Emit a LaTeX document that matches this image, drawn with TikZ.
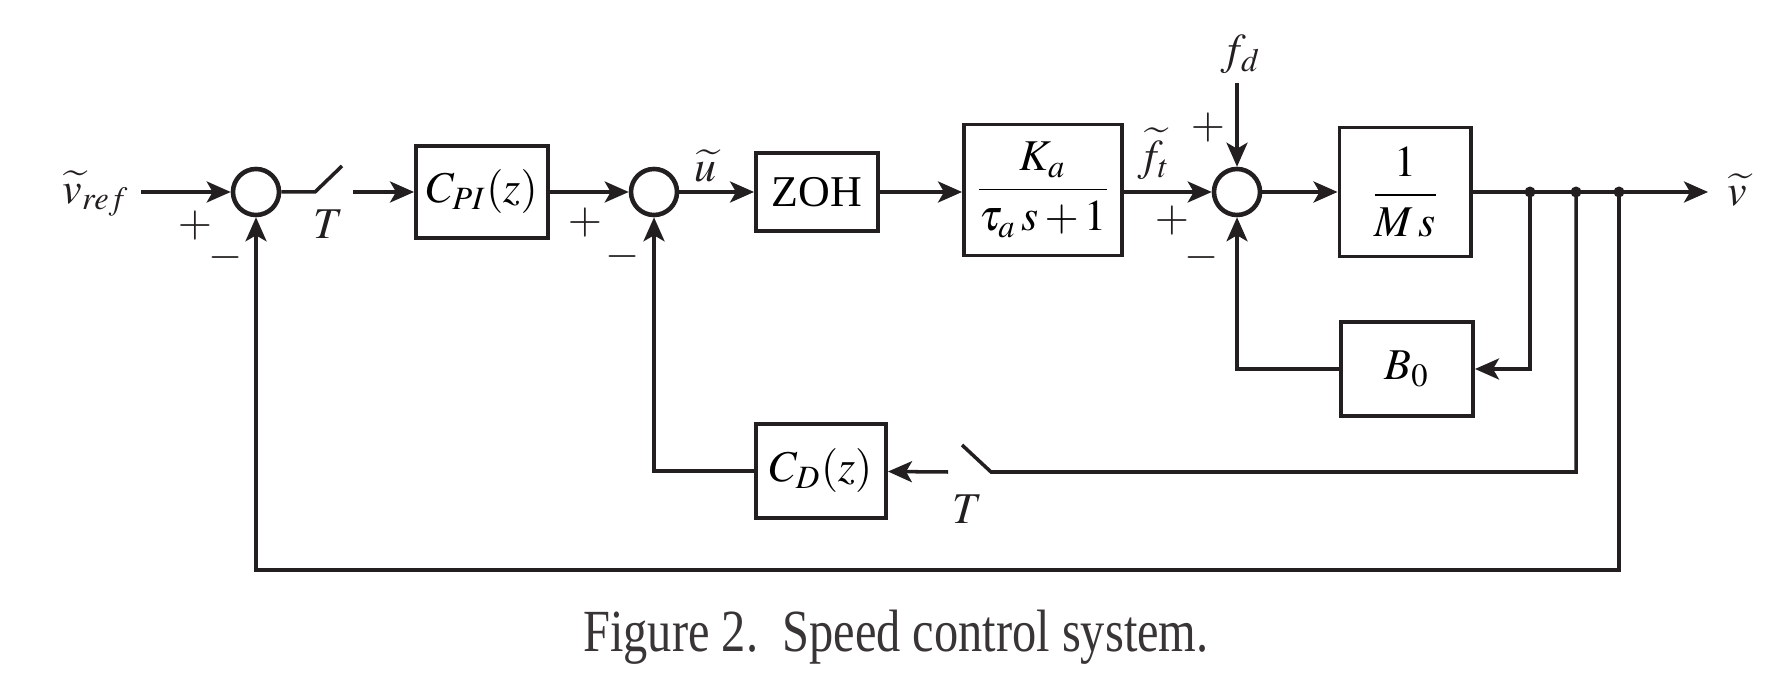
\documentclass[tikz,border=0pt]{standalone}
\usepackage{amsmath}
\usepackage{mathptmx}
\usepackage{fontspec}
\setmainfont{Liberation Serif}
\usepackage{tikz}
\usetikzlibrary{positioning, arrows.meta}
\definecolor{ink}{HTML}{231F20}

\begin{document}
\begin{tikzpicture}[x=0.01cm, y=-0.01cm, font=\fontsize{12.5}{15}\selectfont,
    block/.style={draw=ink, line width=1.1pt, inner sep=2pt},
    sumnode/.style={draw=ink, circle, line width=1.3pt, minimum size=0.46cm, inner sep=0pt},
    sig/.style={draw=ink, line width=1pt, -{Stealth[length=2.4mm, width=2.1mm, inset=0.6mm]}},
    wire/.style={draw=ink, line width=1pt},
    lbl/.style={text=ink, inner sep=1pt},
    sign/.style={text=ink, inner sep=0pt}]
    \useasboundingbox (0,0) rectangle (1774,674);
    % forward path
    \node[lbl] (vref) at (96,194) {$\widetilde{v}_{ref}$};
    \coordinate (vin) at (141,192);
    \node[sumnode] (s1) at (256,192) {};
    \coordinate (sw1a) at (315,192);
    \coordinate (sw1b) at (342,166);
    \coordinate (sw1c) at (353,192);
    \node[lbl] (t1) at (329,224) {$T$};
    \node[block, minimum width=1.32cm, minimum height=0.92cm] (cpi) at (482,192) {$C_{PI}(z)$};
    \node[sumnode] (s2) at (654,192) {};
    \node[lbl] (u) at (705,166) {$\widetilde{u}$};
    \node[block, minimum width=1.22cm, minimum height=0.78cm] (zoh) at (817,192) {ZOH};
    \node[block, minimum width=1.58cm, minimum height=1.31cm] (act) at (1043,190) {$\dfrac{\;K_a\;}{\tau_a\,s+1}$};
    \node[lbl] (ft) at (1154,154) {$\widetilde{f}_t$};
    \node[sumnode] (s3) at (1237,192) {};
    \node[lbl] (fd) at (1241,54) {$f_d$};
    \coordinate (fdin) at (1237,83);
    \node[block, minimum width=1.31cm, minimum height=1.29cm] (plant) at (1405,192) {$\dfrac{\;\;1\;\;}{M\,s}$};
    \coordinate (vout) at (1708,192);
    \node[lbl] (v) at (1737,190) {$\widetilde{v}$};
    \coordinate (d1) at (1530,192);
    \coordinate (d2) at (1576,192);
    \coordinate (d3) at (1619,192);
    % feedback paths
    \node[block, minimum width=1.32cm, minimum height=0.94cm] (b0) at (1407,369) {$B_0$};
    \node[block, minimum width=1.30cm, minimum height=0.94cm] (cd) at (821,471) {$C_D(z)$};
    \coordinate (sw2a) at (991,472);
    \coordinate (sw2b) at (962,445);
    \coordinate (sw2c) at (948,472);
    \node[lbl] (t2) at (967,509) {$T$};
    \coordinate (fb) at (1619,570);
    % signs
    \node[sign] (p1) at (195,226) {$+$};
    \node[sign] (m1) at (226,258) {$-$};
    \node[sign] (p2) at (585,223) {$+$};
    \node[sign] (m2) at (623,257) {$-$};
    \node[sign] (p3) at (1172,221) {$+$};
    \node[sign] (m3) at (1202,258) {$-$};
    \node[sign] (p4) at (1208,128) {$+$};
    % connectors
    \draw[sig] (vin) -- (s1);
    \draw[wire] (s1) -- (sw1a) -- (sw1b);
    \draw[sig] (sw1c) -- (cpi);
    \draw[sig] (cpi) -- (s2);
    \draw[sig] (s2) -- (zoh);
    \draw[sig] (zoh) -- (zoh -| act.west);
    \draw[sig] (s3 -| act.east) -- (s3);
    \draw[sig] (fdin) -- (s3);
    \draw[sig] (s3) -- (plant);
    \draw[sig] (plant) -- (vout);
    \draw[sig] (d1) |- (b0);
    \draw[sig] (b0) -| (s3);
    \draw[wire] (d2) |- (sw2a) -- (sw2b);
    \draw[sig] (sw2c) -- (cd);
    \draw[sig] (cd) -| (s2);
    \draw[sig] (d3) -- (fb) -| (s1);
    \foreach \d in {d1, d2, d3}
        \fill[ink] (\d) circle (0.055cm);
    % caption
    \node[text=ink!90, font=\fontsize{17}{20}\selectfont] (cap) at (896,637) {\scalebox{0.81}[1]{Figure 2.\ \ Speed control system.}};
\end{tikzpicture}
\end{document}
